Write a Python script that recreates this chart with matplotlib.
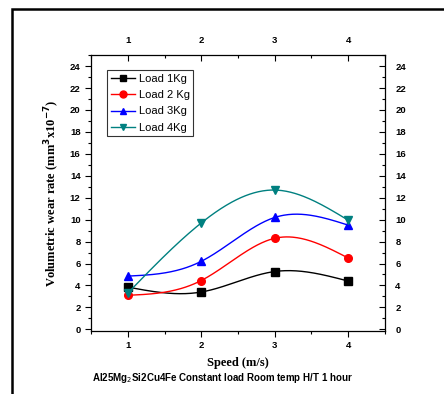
import numpy as np
import matplotlib
matplotlib.use("Agg")
import matplotlib.pyplot as plt
from matplotlib.patches import Rectangle
from matplotlib.ticker import MultipleLocator

speed = [1, 2, 3, 4]
load_1kg = [3.85, 3.4, 5.27, 4.4]
load_2kg = [3.1, 4.45, 8.3, 6.5]
load_3kg = [4.85, 6.2, 10.2, 9.5]
load_4kg = [3.3, 9.7, 12.7, 9.95]

labels = ["Load 1Kg", "Load 2 Kg", "Load 3Kg", "Load 4Kg"]
colors = ["black", "red", "blue", "#008080"]
markers = ["s", "o", "^", "v"]


def natural_spline(x, y, n=200):
    # plain natural cubic spline, no scipy needed
    x = np.asarray(x, float)
    y = np.asarray(y, float)
    k = len(x)
    h = np.diff(x)
    A = np.zeros((k, k))
    b = np.zeros(k)
    A[0, 0] = 1
    A[-1, -1] = 1
    for i in range(1, k - 1):
        A[i, i - 1] = h[i - 1]
        A[i, i] = 2 * (h[i - 1] + h[i])
        A[i, i + 1] = h[i]
        b[i] = 3 * ((y[i + 1] - y[i]) / h[i] - (y[i] - y[i - 1]) / h[i - 1])
    c = np.linalg.solve(A, b)
    xs = np.linspace(x[0], x[-1], n)
    ys = np.empty_like(xs)
    for j, xv in enumerate(xs):
        i = min(np.searchsorted(x, xv, side="right") - 1, k - 2)
        dx = xv - x[i]
        bi = (y[i + 1] - y[i]) / h[i] - h[i] * (2 * c[i] + c[i + 1]) / 3
        di = (c[i + 1] - c[i]) / (3 * h[i])
        ys[j] = y[i] + bi * dx + c[i] * dx ** 2 + di * dx ** 3
    return xs, ys


fig = plt.figure(figsize=(4.44, 3.94), dpi=100)
ax = fig.add_axes([0.205, 0.160, 0.662, 0.700])

series = [load_1kg, load_2kg, load_3kg, load_4kg]
for vals, lab, col, mk in zip(series, labels, colors, markers):
    xs, ys = natural_spline(speed, vals)
    ax.plot(xs, ys, color=col, lw=1.0)
    ax.plot(speed, vals, ls="none", marker=mk, color=col, ms=5.5)
    ax.plot([], [], color=col, marker=mk, ms=5, lw=1.0, label=lab)

ax.set_xlim(0.5, 4.5)
ax.set_ylim(-0.15, 25)
ax.xaxis.set_major_locator(MultipleLocator(1))
ax.xaxis.set_minor_locator(MultipleLocator(0.5))
ax.yaxis.set_major_locator(MultipleLocator(2))
ax.yaxis.set_minor_locator(MultipleLocator(1))

ax.tick_params(axis="both", which="both", labelsize=6.8, width=0.8)
ax.tick_params(which="major", length=4)
ax.tick_params(which="minor", length=2.5)
ax.tick_params(axis="x", which="both", direction="out", top=True, labeltop=True)
ax.tick_params(axis="y", which="both", direction="out", right=True, labelright=True)
for t in ax.get_xticklabels() + ax.get_yticklabels():
    t.set_fontweight("bold")
    t.set_family("Liberation Sans")
# top and right ticks point into the plot
for tl in ax.xaxis.get_major_ticks() + ax.xaxis.get_minor_ticks():
    tl.tick2line.set_marker(3)
for tl in ax.yaxis.get_major_ticks() + ax.yaxis.get_minor_ticks():
    tl.tick2line.set_marker(0)
for sp in ax.spines.values():
    sp.set_linewidth(0.9)

ax.set_xlabel("Speed (m/s)", family="Liberation Serif", fontweight="bold",
              fontsize=9, labelpad=5)
ax.set_ylabel(r"Volumetric wear rate (mm$^{\mathbf{3}}$x10$^{\mathbf{-7}}$)",
              family="Liberation Serif", fontweight="bold", fontsize=9, labelpad=6)

leg = ax.legend(loc="upper left", bbox_to_anchor=(0.035, 0.965),
                prop={"family": "Liberation Sans", "size": 8},
                frameon=True, fancybox=False, edgecolor="black",
                handlelength=2.2, handletextpad=0.3, borderpad=0.35,
                labelspacing=0.55)
leg.get_frame().set_linewidth(0.8)

fig.text(0.5, 0.040, r"Al25Mg$_2$Si2Cu4Fe Constant load Room temp H/T 1 hour",
         ha="center", va="center", family="Liberation Sans", fontweight="bold",
         fontsize=7)

# outer frame of the original figure
fig.patches.append(Rectangle((12 / 444, -0.05), 1.2, 1 - 9 / 394 + 0.05,
                             transform=fig.transFigure, fill=False,
                             lw=1.8, edgecolor="black"))

fig.savefig("out.png", dpi=100)
